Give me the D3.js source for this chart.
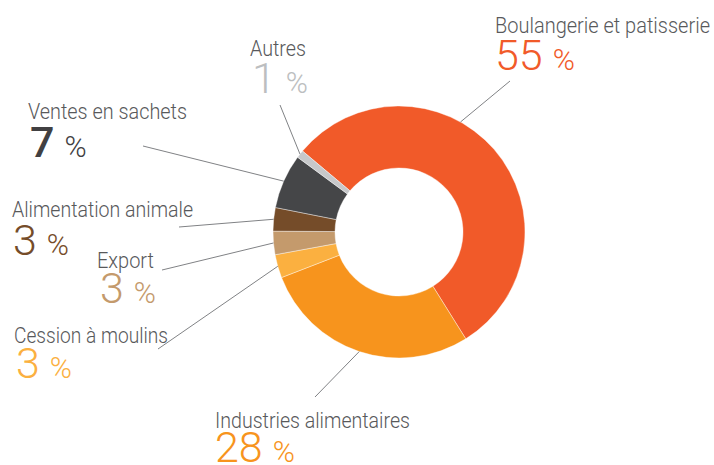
<!DOCTYPE html>
<html>
<head>
<meta charset="utf-8">
<script src="https://cdn.jsdelivr.net/npm/d3@7"></script>
<style>
  body { margin: 0; background: #fff; }
  svg { display: block; }
  text { font-family: Roboto, "Open Sans", sans-serif; }
</style>
</head>
<body>
<div class="root"></div>
<script>
const width = 714;
const height = 465;

// data
const categories = [
  "Boulangerie et patisserie",
  "Industries alimentaires",
  "Cession à moulins",
  "Export",
  "Alimentation animale",
  "Ventes en sachets",
  "Autres",
];
const shares = [55, 28, 3, 3, 3, 7, 1];
const colors = ["#f15a29", "#f7941d", "#fbb040", "#c49a6c", "#754c29", "#454648", "#c7c8ca"];
const numColors = ["#f15a29", "#f7941d", "#fbb040", "#c49a6c", "#754c29", "#414042", "#bcbec0"];

// label layout: name position, width, number baseline, line start, position of line along slice
const labelX = [495, 215, 14, 97, 12, 28, 250];
const nameY = [33, 428, 343, 268, 217, 119, 56];
const nameW = [215, 195, 154, 57, 181, 159, 56];
const numX = [495, 215, 16, 100, 13, 30, 252];
const numY = [70, 462, 378, 303, 255, 157, 93];
const lineFrom = [[510, 81], [315, 397], [158, 349], [162, 270], [179, 227], [143, 146], [280, 105]];
const lineAt = [0.4, 0.5, 0.5, 0.5, 0.5, 0.5, 0.5];

const cx = 399, cy = 232, outerR = 126, innerR = 64;
const startAngle = -50 * Math.PI / 180;

const svg = d3
  .select(".root")
  .append("svg")
  .attr("width", width)
  .attr("height", height);

const pie = d3.pie().sort(null).value((d) => d)
  .startAngle(startAngle)
  .endAngle(startAngle + 2 * Math.PI);
const arcs = pie(shares);
const arc = d3.arc().innerRadius(innerR).outerRadius(outerR);

const g = svg.append("g").attr("transform", `translate(${cx},${cy})`);
g.selectAll("path")
  .data(arcs)
  .join("path")
  .attr("d", arc)
  .attr("fill", (d, i) => colors[i])
  .attr("stroke", "#fff")
  .attr("stroke-width", 0.4);

// leader lines
arcs.forEach((a, i) => {
  const ang = a.startAngle + (a.endAngle - a.startAngle) * lineAt[i];
  const x2 = cx + Math.sin(ang) * outerR;
  const y2 = cy - Math.cos(ang) * outerR;
  svg.append("line")
    .attr("x1", lineFrom[i][0]).attr("y1", lineFrom[i][1])
    .attr("x2", x2).attr("y2", y2)
    .attr("stroke", "#808285")
    .attr("stroke-width", 1);
});

// labels
categories.forEach((c, i) => {
  svg.append("text")
    .attr("x", labelX[i]).attr("y", nameY[i])
    .attr("font-size", 22)
    .attr("font-weight", 300)
    .attr("fill", "#58595b")
    .attr("textLength", nameW[i])
    .attr("lengthAdjust", "spacingAndGlyphs")
    .text(c);

  const num = svg.append("text")
    .attr("x", numX[i]).attr("y", numY[i])
    .attr("font-size", 43)
    .attr("font-weight", i === 5 ? 500 : 300)
    .attr("fill", numColors[i])
    .text(shares[i]);
  const w = num.node().getComputedTextLength();
  svg.append("text")
    .attr("x", numX[i] + w + 10).attr("y", numY[i])
    .attr("font-size", 30)
    .attr("font-weight", 300)
    .attr("fill", numColors[i])
    .text("%");
});
</script>
</body>
</html>
